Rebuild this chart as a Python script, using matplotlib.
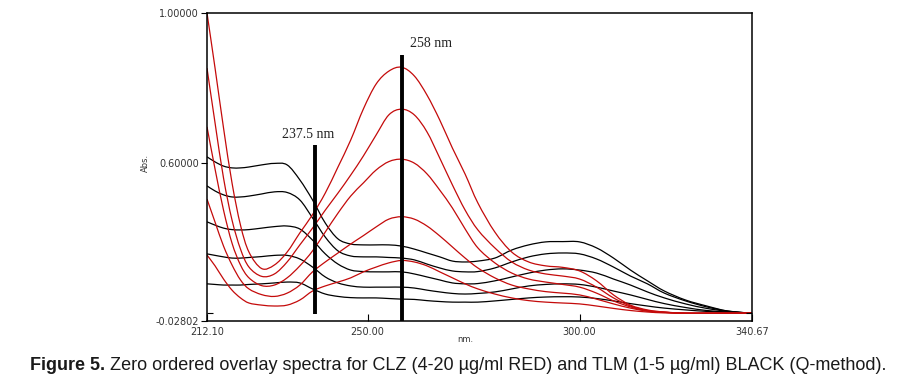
import matplotlib
matplotlib.use("Agg")
import matplotlib.pyplot as plt
from matplotlib.path import Path
from matplotlib.patches import PathPatch

# ---- data ----
wavelength = [212.1, 214, 216, 218, 220, 222, 225, 228, 231, 234, 237, 240, 243, 246, 249,
              252, 255, 258, 261, 264, 267, 270, 273, 276, 280, 284, 288, 292, 296, 300,
              304, 308, 312, 316, 320, 325, 330, 335, 340.67]

# TLM 1-5 ug/ml (black)
tlm_1 = [0.096,0.094,0.092,0.092,0.092,0.094,0.096,0.099,0.102,0.099,0.079,0.062,0.054,0.050,0.049,0.049,0.047,0.045,0.044,0.040,0.037,0.035,0.035,0.035,0.039,0.044,0.049,0.052,0.053,0.052,0.047,0.039,0.030,0.022,0.015,0.009,0.004,0.001,-0.002]
tlm_2 = [0.196,0.191,0.186,0.182,0.182,0.184,0.187,0.191,0.191,0.179,0.152,0.119,0.099,0.089,0.085,0.085,0.085,0.085,0.082,0.075,0.069,0.064,0.062,0.064,0.069,0.079,0.089,0.094,0.096,0.094,0.085,0.072,0.059,0.044,0.030,0.017,0.007,0.002,-0.002]
tlm_3 = [0.303,0.292,0.282,0.277,0.276,0.277,0.282,0.287,0.289,0.279,0.242,0.196,0.162,0.142,0.137,0.136,0.136,0.136,0.129,0.119,0.109,0.099,0.096,0.097,0.106,0.119,0.132,0.142,0.146,0.142,0.132,0.112,0.092,0.069,0.049,0.029,0.014,0.004,-0.002]
tlm_4 = [0.423,0.406,0.393,0.386,0.386,0.389,0.396,0.403,0.401,0.376,0.316,0.252,0.206,0.189,0.186,0.186,0.184,0.182,0.176,0.162,0.149,0.139,0.136,0.137,0.149,0.169,0.186,0.196,0.199,0.196,0.179,0.152,0.122,0.096,0.065,0.039,0.019,0.005,-0.002]
tlm_5 = [0.520,0.503,0.489,0.483,0.483,0.486,0.493,0.498,0.493,0.443,0.376,0.299,0.246,0.229,0.226,0.226,0.226,0.222,0.212,0.199,0.186,0.172,0.169,0.172,0.182,0.209,0.226,0.236,0.237,0.236,0.216,0.182,0.142,0.106,0.072,0.042,0.022,0.005,-0.002]

# CLZ 4-20 ug/ml (red)
clz_4 = [0.192,0.156,0.112,0.075,0.049,0.032,0.025,0.022,0.025,0.042,0.072,0.089,0.102,0.116,0.136,0.152,0.166,0.174,0.169,0.156,0.136,0.116,0.096,0.079,0.062,0.049,0.040,0.035,0.032,0.029,0.022,0.014,0.007,0.002,-0.001,-0.002,-0.002,-0.002,-0.002]
clz_8 = [0.379,0.302,0.222,0.159,0.109,0.079,0.060,0.054,0.065,0.092,0.136,0.169,0.199,0.229,0.257,0.286,0.312,0.320,0.312,0.289,0.256,0.219,0.182,0.149,0.116,0.092,0.079,0.070,0.065,0.059,0.045,0.029,0.015,0.005,0.001,-0.002,-0.002,-0.002,-0.002]
clz_12 = [0.620,0.479,0.342,0.232,0.159,0.116,0.090,0.092,0.116,0.156,0.206,0.269,0.332,0.389,0.433,0.476,0.504,0.512,0.499,0.463,0.409,0.349,0.279,0.216,0.166,0.132,0.112,0.102,0.094,0.085,0.065,0.039,0.019,0.005,0.001,-0.002,-0.002,-0.002,-0.002]
clz_16 = [0.816,0.633,0.449,0.309,0.212,0.152,0.121,0.129,0.169,0.226,0.282,0.342,0.399,0.459,0.523,0.593,0.660,0.679,0.660,0.603,0.516,0.426,0.342,0.276,0.216,0.169,0.142,0.129,0.122,0.112,0.085,0.049,0.022,0.007,0.001,-0.002,-0.002,-0.002,-0.002]
clz_20 = [1.000,0.816,0.616,0.433,0.292,0.202,0.147,0.159,0.202,0.266,0.327,0.399,0.486,0.576,0.680,0.763,0.806,0.819,0.790,0.726,0.643,0.549,0.462,0.366,0.269,0.202,0.169,0.156,0.151,0.139,0.106,0.059,0.025,0.009,0.002,-0.002,-0.002,-0.002,-0.002]

black_series = [tlm_1, tlm_2, tlm_3, tlm_4, tlm_5]
red_series = [clz_4, clz_8, clz_12, clz_16, clz_20]

# marker lines (wavelength, top value) and their labels
marker_nm = [237.5, 258.0]
marker_top = [0.560, 0.860]
marker_bottom = [-0.005, -0.02802]
marker_labels = ["237.5 nm", "258 nm"]

x_ticks = [212.1, 250.0, 300.0, 340.67]
x_tick_labels = ["212.10", "250.00", "300.00", "340.67"]
y_ticks = [-0.02802, 0.499, 1.0]
y_tick_labels = ["-0.02802", "0.60000", "1.00000"]

caption_bold = "Figure 5."
caption_rest = " Zero ordered overlay spectra for CLZ (4-20 \u00b5g/ml RED) and TLM (1-5 \u00b5g/ml) BLACK (Q-method)."


def smooth_path(xs, ys):
    """Bezier path passing through every data point (Catmull-Rom tangents)."""
    pts = list(zip(xs, ys))
    n = len(pts)
    verts = [pts[0]]
    codes = [Path.MOVETO]
    for i in range(n - 1):
        p0 = pts[i - 1] if i > 0 else pts[i]
        p1 = pts[i]
        p2 = pts[i + 1]
        p3 = pts[i + 2] if i + 2 < n else pts[i + 1]
        c1 = (p1[0] + (p2[0] - p0[0]) / 6.0, p1[1] + (p2[1] - p0[1]) / 6.0)
        c2 = (p2[0] - (p3[0] - p1[0]) / 6.0, p2[1] - (p3[1] - p1[1]) / 6.0)
        verts += [c1, c2, p2]
        codes += [Path.CURVE4] * 3
    return Path(verts, codes)


# ---- figure ----
W, H = 909, 379
fig = plt.figure(figsize=(W / 100, H / 100), dpi=100)
ax = fig.add_axes([207 / W, 1 - 321 / H, (752 - 207) / W, (321 - 13) / H])

for s in black_series:
    ax.add_patch(PathPatch(smooth_path(wavelength, s), fill=False, edgecolor="black", lw=0.9))
for s in red_series:
    ax.add_patch(PathPatch(smooth_path(wavelength, s), fill=False, edgecolor="#c40a0a", lw=0.9))

for nm, top, bot in zip(marker_nm, marker_top, marker_bottom):
    ax.plot([nm, nm], [bot, top], color="black", lw=2.8, solid_capstyle="butt")

ax.text(235.9, 0.596, marker_labels[0], family="Liberation Serif", fontsize=10,
        ha="center", va="center", color="#222222")
ax.text(260.0, 0.897, marker_labels[1], family="Liberation Serif", fontsize=10,
        ha="left", va="center", color="#222222")

ax.set_xlim(212.1, 340.67)
ax.set_ylim(-0.02802, 1.0)

for sp in ax.spines.values():
    sp.set_linewidth(1.1)
    sp.set_color("black")

ax.set_xticks(x_ticks)
ax.set_xticklabels(x_tick_labels, fontsize=7, color="#333333")
ax.set_yticks(y_ticks)
ax.set_yticklabels(y_tick_labels, fontsize=7, color="#333333")
ax.tick_params(axis="x", direction="in", length=5, width=0.8, pad=4)
ax.tick_params(axis="y", direction="out", length=4, width=0.8, pad=2)

# top tick at 250 and right tick at 0.6 position
ax.tick_params(top=True, right=True, which="minor", direction="in", length=4, width=0.8,
               labeltop=False, labelright=False)
ax.set_xticks([250.0], minor=True)
ax.set_yticks([y_ticks[1], 0.0], minor=True)

fig.text(465 / W, 1 - 339 / H, "nm.", fontsize=6, color="#333333", ha="center", va="center")
fig.text(145 / W, 1 - 163 / H, "Abs.", fontsize=6, color="#333333", ha="center", va="center",
         rotation=90)

# caption
fs = 12.5
t1 = fig.text(30 / W, 1 - 365 / H, caption_bold, fontsize=fs, weight="bold",
              family="Liberation Sans", color="#1a1a1a", va="center", ha="left")
fig.canvas.draw()
r = fig.canvas.get_renderer()
bb1 = t1.get_window_extent(r)
t2 = fig.text(bb1.x1 / W, 1 - 365 / H, caption_rest, fontsize=fs,
              family="Liberation Sans", color="#1a1a1a", va="center", ha="left")
fig.canvas.draw()
bb2 = t2.get_window_extent(r)
total = bb2.x1 - bb1.x0
scale = 855.0 / total
fs2 = fs * scale
t1.set_fontsize(fs2)
fig.canvas.draw()
bb1 = t1.get_window_extent(r)
t2.set_fontsize(fs2)
t2.set_x(bb1.x1 / W)

fig.savefig("out.png", dpi=100)
